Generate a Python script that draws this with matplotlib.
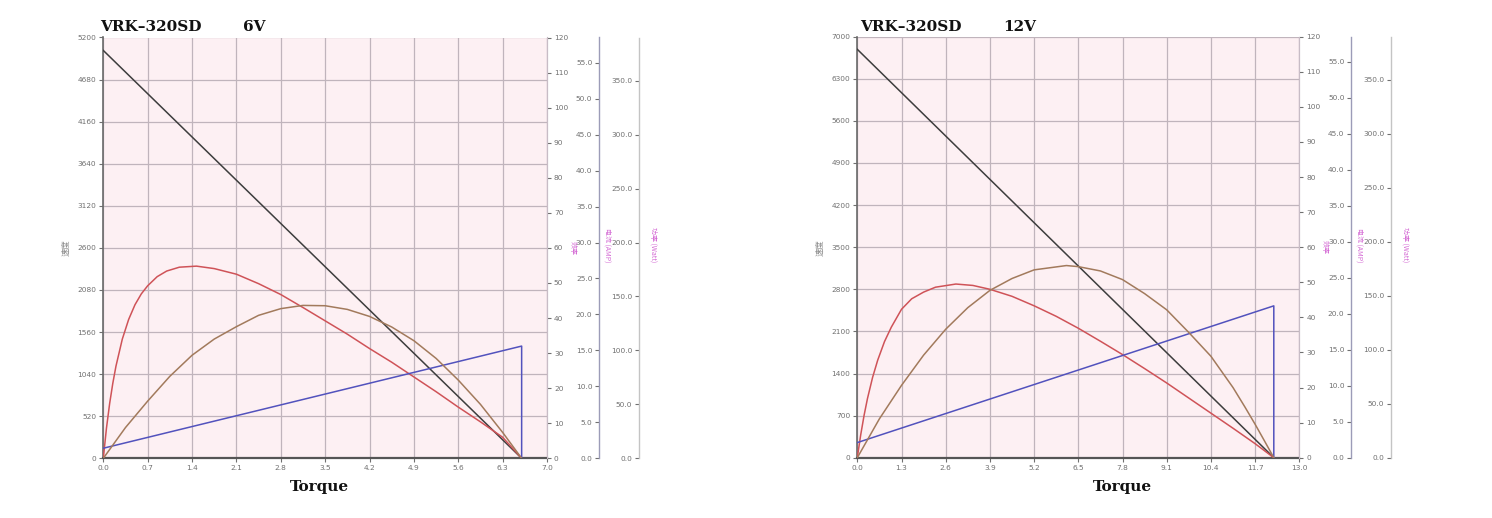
import matplotlib
matplotlib.use("Agg")
import matplotlib.pyplot as plt
from matplotlib.ticker import FixedLocator, FormatStrFormatter

# ---------------- data ----------------
titles = ["VRK\u2013320SD", "VRK\u2013320SD"]
voltages = ["6V", "12V"]

# 6V chart
x_max_6 = 7.0
x_ticks_6 = [0.0, 0.7, 1.4, 2.1, 2.8, 3.5, 4.2, 4.9, 5.6, 6.3, 7.0]
speed_ticks_6 = [0, 520, 1040, 1560, 2080, 2600, 3120, 3640, 4160, 4680, 5200]
speed_torque_6 = [0.0, 6.6]
speed_6 = [5040, 0]
eff_torque_6 = [0, 0.05, 0.1, 0.15, 0.2, 0.3, 0.4, 0.5, 0.6, 0.7, 0.85, 1.0, 1.2, 1.47, 1.75,
                2.1, 2.45, 2.8, 3.15, 3.5, 3.85, 4.2, 4.55, 4.9, 5.25, 5.6, 5.95, 6.3, 6.6]
eff_6 = [0, 8.6, 15.6, 21.4, 26.3, 34, 39.6, 43.8, 46.9, 49.2, 51.8, 53.4, 54.5, 54.8, 54.1,
         52.5, 49.8, 46.7, 43, 39.2, 35.4, 31.3, 27.4, 23.2, 19, 14.6, 10.4, 6.0, 0]
pow_torque_6 = [0, 0.35, 0.7, 1.05, 1.4, 1.75, 2.1, 2.45, 2.8, 3.15, 3.5, 3.85, 4.2, 4.55,
                4.9, 5.25, 5.6, 5.95, 6.3, 6.6]
power_6 = [0, 28.5, 53, 76, 95.5, 110.5, 122, 132.5, 138.7, 141.7, 141.4, 138, 131.5, 121.7,
           109, 92.6, 72.5, 50, 24, 0]
cur_torque_6 = [0.0, 6.6, 6.6]
current_6 = [1.4, 15.6, 0.0]

# 12V chart
x_max_12 = 13.0
x_ticks_12 = [0.0, 1.3, 2.6, 3.9, 5.2, 6.5, 7.8, 9.1, 10.4, 11.7, 13.0]
speed_ticks_12 = [0, 700, 1400, 2100, 2800, 3500, 4200, 4900, 5600, 6300, 7000]
speed_torque_12 = [0.0, 12.25]
speed_12 = [6790, 0]
eff_torque_12 = [0, 0.1, 0.2, 0.3, 0.45, 0.6, 0.8, 1.0, 1.3, 1.6, 1.95, 2.3, 2.9, 3.4, 3.9,
                 4.55, 5.2, 5.85, 6.5, 7.15, 7.8, 8.45, 9.1, 9.75, 10.4, 11.05, 11.7, 12.25]
eff_12 = [0, 6.5, 12.1, 16.9, 22.9, 27.8, 33.1, 37.2, 42.3, 45.3, 47.2, 48.6, 49.5, 49.1, 48.0,
          46.0, 43.3, 40.3, 36.9, 33.2, 29.4, 25.4, 21.3, 17.0, 12.7, 8.4, 4.0, 0]
pow_torque_12 = [0, 0.65, 1.3, 1.95, 2.6, 3.25, 3.9, 4.55, 5.2, 6.15, 6.5, 7.15, 7.8, 8.45,
                 9.1, 9.75, 10.4, 11.05, 11.4, 11.7, 11.95, 12.25]
power_12 = [0, 36, 67, 95, 119, 139, 155, 166, 174, 178, 177, 173, 165, 152,
            137, 116, 94, 65, 47, 31, 17, 0]
cur_torque_12 = [0.0, 12.25, 12.25]
current_12 = [2.1, 21.1, 0.0]

eff_ticks = list(range(0, 121, 10))
cur_ticks = [0, 5, 10, 15, 20, 25, 30, 35, 40, 45, 50, 55]
pow_ticks = [0, 50, 100, 150, 200, 250, 300, 350]
cur_max = 58.5
pow_max = 390

# ---------------- style ----------------
W, H = 1492, 518
fig = plt.figure(figsize=(W / 100, H / 100), dpi=100)
fig.patch.set_facecolor("white")

BG = "#fdf0f3"
GRID = "#c0b4bc"
TICK_C = "#707070"
C_SPEED = "#3d3d3d"
C_EFF = "#cf5358"
C_POW = "#a27a5c"
C_CUR = "#5252bd"
LBL_C = "#d46ad4"
CJK = ["Noto Sans CJK SC", "DejaVu Sans"]
SERIF = "DejaVu Serif"
TFS = 5.3


def panel(left_px, right_px, top_px, bot_px, x_max, x_ticks, s_ticks,
          st, sv, et, ev, pt, pv, ct, cv, title, volt, title_x, volt_x, torque_x):
    ax = fig.add_axes([left_px / W, 1 - bot_px / H, (right_px - left_px) / W, (bot_px - top_px) / H])
    ax.set_facecolor(BG)
    ax.set_xlim(0, x_max)
    ax.set_ylim(0, s_ticks[-1])
    ax.xaxis.set_major_locator(FixedLocator(x_ticks))
    ax.yaxis.set_major_locator(FixedLocator(s_ticks))
    ax.xaxis.set_major_formatter(FormatStrFormatter("%.1f"))
    ax.yaxis.set_major_formatter(FormatStrFormatter("%d"))
    ax.grid(True, color=GRID, lw=0.9)
    ax.set_axisbelow(True)
    ax.tick_params(axis="both", labelsize=TFS, colors=TICK_C, length=3, width=0.8, pad=2)
    ax.spines["top"].set_visible(False)
    ax.spines["left"].set_color("#6a6a6a")
    ax.spines["left"].set_linewidth(1.2)
    ax.spines["bottom"].set_color("#555555")
    ax.spines["bottom"].set_linewidth(1.6)
    ax.spines["right"].set_color("#c8bcc6")
    ax.spines["right"].set_linewidth(0.8)
    ax.plot(st, sv, color=C_SPEED, lw=1.1, zorder=5)
    ax.set_ylabel("速度", family=CJK, fontsize=6, color="#888888", labelpad=5)

    # efficiency axis (right)
    ae = ax.twinx()
    ae.set_ylim(0, 120)
    ae.yaxis.set_major_locator(FixedLocator(eff_ticks))
    ae.yaxis.set_major_formatter(FormatStrFormatter("%d"))
    ae.tick_params(axis="y", labelsize=TFS, colors=TICK_C, length=3, width=0.8, pad=2)
    for s in ("top", "left", "bottom"):
        ae.spines[s].set_visible(False)
    ae.spines["right"].set_color("#c8bcc6")
    ae.plot(et, ev, color=C_EFF, lw=1.1, zorder=5)
    ae.set_ylabel("效率", family=CJK, fontsize=5, color=LBL_C, rotation=-90, labelpad=6)

    # current axis (offset)
    ac = ax.twinx()
    ac.set_ylim(0, cur_max)
    for s in ("top", "right", "bottom"):
        ac.spines[s].set_visible(False)
    ac.spines["left"].set_visible(True)
    ac.spines["left"].set_position(("axes", 1.118))
    ac.spines["left"].set_color("#9c9cb8")
    ac.spines["left"].set_linewidth(1.0)
    ac.yaxis.set_ticks_position("left")
    ac.yaxis.set_major_locator(FixedLocator(cur_ticks))
    ac.yaxis.set_major_formatter(FormatStrFormatter("%.1f"))
    ac.tick_params(axis="y", labelsize=TFS, colors=TICK_C, length=3, width=0.8, pad=2)
    ac.plot(ct, cv, color=C_CUR, lw=1.1, zorder=5)

    # power axis (offset)
    ap = ax.twinx()
    ap.set_ylim(0, pow_max)
    for s in ("top", "right", "bottom"):
        ap.spines[s].set_visible(False)
    ap.spines["left"].set_visible(True)
    ap.spines["left"].set_position(("axes", 1.208))
    ap.spines["left"].set_color("#c4c4c4")
    ap.spines["left"].set_linewidth(1.0)
    ap.yaxis.set_ticks_position("left")
    ap.yaxis.set_major_locator(FixedLocator(pow_ticks))
    ap.yaxis.set_major_formatter(FormatStrFormatter("%.1f"))
    ap.tick_params(axis="y", labelsize=TFS, colors=TICK_C, length=3, width=0.8, pad=2)
    ap.plot(pt, pv, color=C_POW, lw=1.1, zorder=5)

    w = right_px - left_px
    fig.text((left_px + 1.118 * w + 8) / W, 1 - 245 / H, "电流 (AMP)", family=CJK, fontsize=5,
             color=LBL_C, rotation=-90, ha="center", va="center")
    fig.text((left_px + 1.208 * w + 14) / W, 1 - 245 / H, "功率 (Watt)", family=CJK, fontsize=5,
             color=LBL_C, rotation=-90, ha="center", va="center")

    fig.text(title_x / W, 1 - 27 / H, title, family=SERIF, fontweight="bold", fontsize=11,
             ha="left", va="center", color="#111111")
    fig.text(volt_x / W, 1 - 27 / H, volt, family=SERIF, fontweight="bold", fontsize=11,
             ha="left", va="center", color="#111111")
    fig.text(torque_x / W, 1 - 487 / H, "Torque", family=SERIF, fontweight="bold", fontsize=11,
             ha="center", va="center", color="#111111")


panel(103.3, 547.0, 37.5, 458.3, x_max_6, x_ticks_6, speed_ticks_6,
      speed_torque_6, speed_6, eff_torque_6, eff_6, pow_torque_6, power_6,
      cur_torque_6, current_6, titles[0], voltages[0], 100, 243, 319)
panel(857.3, 1299.3, 36.7, 457.7, x_max_12, x_ticks_12, speed_ticks_12,
      speed_torque_12, speed_12, eff_torque_12, eff_12, pow_torque_12, power_12,
      cur_torque_12, current_12, titles[1], voltages[1], 860, 1003, 1122)

fig.savefig("out.png", dpi=100, facecolor="white")
